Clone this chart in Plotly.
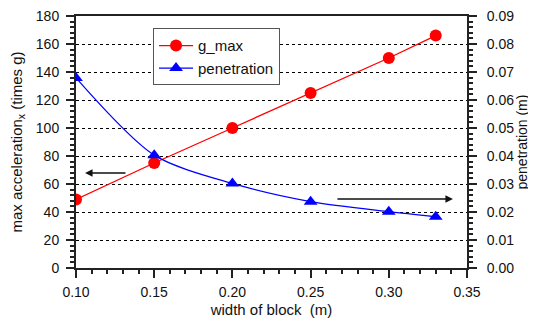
import plotly.graph_objects as go

width_m = [0.10, 0.15, 0.20, 0.25, 0.30, 0.33]
g_max = [49, 75, 100, 125, 150, 166]
penetration = [0.0679, 0.0403, 0.0302, 0.0237, 0.0201, 0.0183]

x_ticks = [0.10, 0.15, 0.20, 0.25, 0.30, 0.35]
y_ticks = list(range(0, 181, 20))
y2_ticks = [i / 100 for i in range(0, 10)]

FONT = "Liberation Sans, Arial, sans-serif"
AX = "#222222"

fig = go.Figure()
fig.add_trace(go.Scatter(
    x=width_m, y=g_max, name="g_max", mode="lines+markers",
    line=dict(color="#ff0000", width=1.3),
    marker=dict(symbol="circle", size=12, color="#ff0000"),
))
fig.add_trace(go.Scatter(
    x=width_m, y=penetration, name="penetration", mode="lines+markers",
    yaxis="y2",
    line=dict(color="#0000ff", width=1.3, shape="spline", smoothing=0.8),
    marker=dict(symbol="triangle-up", size=12, color="#0000ff"),
))

axis_common = dict(
    showline=True, linecolor=AX, linewidth=2, automargin=False,
    ticks="outside", ticklen=8, tickwidth=2, tickcolor=AX,
    tickfont=dict(family=FONT, size=14, color="#111"),
    zeroline=False, ticklabeloverflow="allow",
)

# the page body has an 8px margin, so the figure is sized/offset to compensate
fig.update_layout(
    width=528, height=315,
    margin=dict(l=68, r=69, t=8, b=55),
    paper_bgcolor="white", plot_bgcolor="white",
    font=dict(family=FONT, size=14, color="#111"),
    showlegend=True,
    legend=dict(
        x=0.197, y=0.951, xanchor="left", yanchor="top",
        bgcolor="white", bordercolor="#555", borderwidth=1,
        font=dict(family=FONT, size=15, color="#111"),
        tracegroupgap=0, itemwidth=34,
    ),
    xaxis=dict(
        **axis_common,
        range=[0.10, 0.35], tickvals=x_ticks,
        ticktext=[f"{v:.2f}" for v in x_ticks],
        mirror=True, showgrid=False, ticklabelstandoff=2,
        minor=dict(dtick=0.01, ticks="outside", ticklen=4, tickwidth=1.5, tickcolor=AX),
        title=dict(text="width of block  (m)", font=dict(family=FONT, size=15), standoff=6),
    ),
    yaxis=dict(
        **axis_common,
        range=[0, 180], tickvals=y_ticks, ticklabelstandoff=4,
        showgrid=True, gridcolor="#000", griddash="dot", gridwidth=1,
        minor=dict(dtick=4, ticks="outside", ticklen=4, tickwidth=1.5, tickcolor=AX, showgrid=False),
        title=dict(text="max acceleration<sub>x</sub> (times g)", font=dict(family=FONT, size=15), standoff=19),
    ),
    yaxis2=dict(
        **axis_common,
        overlaying="y", side="right",
        range=[0, 0.09], tickvals=y2_ticks, ticklabelstandoff=7,
        ticktext=[f"{v:.2f}" for v in y2_ticks],
        showgrid=False,
        minor=dict(dtick=0.002, ticks="outside", ticklen=4, tickwidth=1.5, tickcolor=AX),
        title=dict(text="penetration (m)", font=dict(family=FONT, size=14), standoff=0),
    ),
)

fig.add_annotation(x=0.1058, y=67.8, ax=0.1326, ay=67.8, xref="x", yref="y",
                   axref="x", ayref="y", showarrow=True, arrowhead=2,
                   arrowsize=1, arrowwidth=1.5, arrowcolor="#111", text="")
fig.add_annotation(x=0.341, y=49.2, ax=0.2662, ay=49.2, xref="x", yref="y",
                   axref="x", ayref="y", showarrow=True, arrowhead=2,
                   arrowsize=1, arrowwidth=1.5, arrowcolor="#111", text="")

fig.write_html("out.html")
